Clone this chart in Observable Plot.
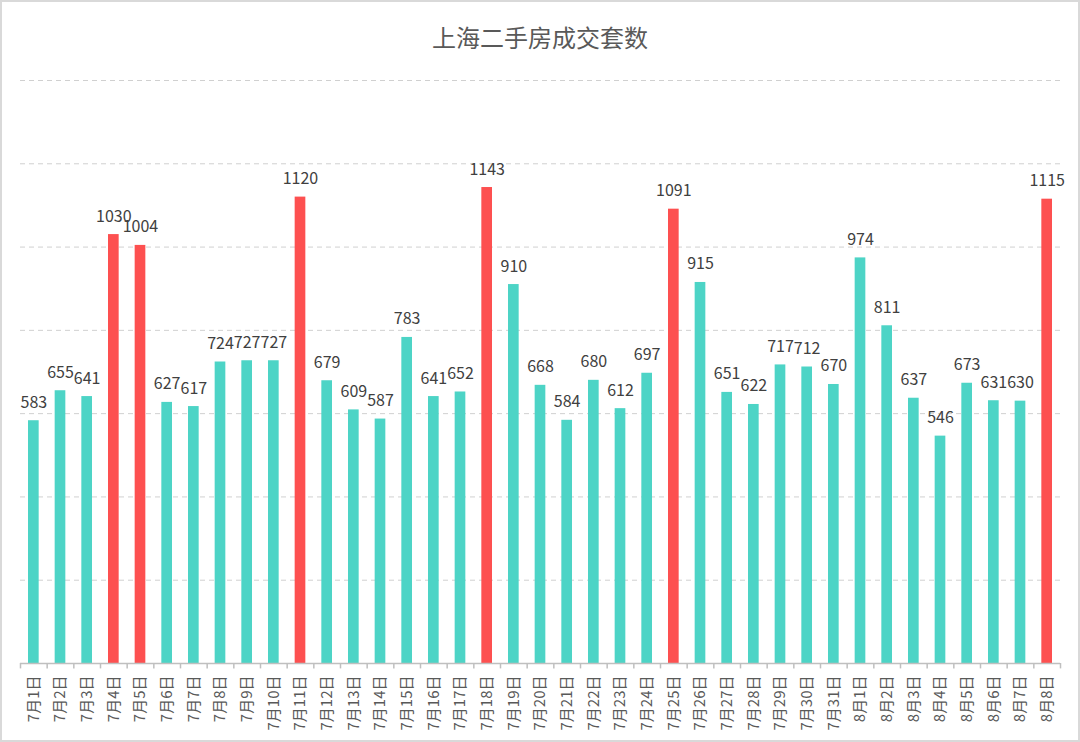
<!DOCTYPE html>
<html>
<head>
<meta charset="utf-8">
<script src="https://cdn.jsdelivr.net/npm/d3@7"></script>
<script src="https://cdn.jsdelivr.net/npm/@observablehq/plot@0.6"></script>
<style>
  html, body { margin: 0; padding: 0; background: #fff; }
  #wrap { position: relative; width: 1080px; height: 742px; overflow: hidden; font-family: "Noto Sans CJK SC", "Noto Sans", sans-serif; }
  #title { position: absolute; left: 0; top: 18px; width: 1080px; text-align: center; font-size: 24px; color: #595959; line-height: 38px; }
  #border { position: absolute; left: 0; top: 0; width: 1080px; height: 742px; box-sizing: border-box; border: 2px solid #d9d9d9; pointer-events: none; }
  #chart svg g[aria-label="x-axis tick label"] text { font-size: 15px; }
</style>
</head>
<body>
<div id="wrap">
  <div id="chart"></div>
  <div id="title">上海二手房成交套数</div>
  <div id="border"></div>
</div>
<script>
const dates = [
  "7月1日","7月2日","7月3日","7月4日","7月5日","7月6日","7月7日","7月8日","7月9日","7月10日",
  "7月11日","7月12日","7月13日","7月14日","7月15日","7月16日","7月17日","7月18日","7月19日","7月20日",
  "7月21日","7月22日","7月23日","7月24日","7月25日","7月26日","7月27日","7月28日","7月29日","7月30日",
  "7月31日","8月1日","8月2日","8月3日","8月4日","8月5日","8月6日","8月7日","8月8日"
];
const counts = [
  583, 655, 641, 1030, 1004, 627, 617, 724, 727, 727,
  1120, 679, 609, 587, 783, 641, 652, 1143, 910, 668,
  584, 680, 612, 697, 1091, 915, 651, 622, 717, 712,
  670, 974, 811, 637, 546, 673, 631, 630, 1115
];
const highlighted = ["7月4日","7月5日","7月11日","7月18日","7月25日","8月8日"];
const yTicks = [0, 200, 400, 600, 800, 1000, 1200, 1400];

const data = dates.map((d, i) => ({date: d, value: counts[i], hi: highlighted.includes(d)}));
const lastDate = dates[dates.length - 1];

const W = 1080, H = 742, mL = 20, mR = 20;
const step = (W - mL - mR) / dates.length;

const chart = Plot.plot({
  width: W,
  height: H,
  marginTop: 80,
  marginBottom: 79,
  marginLeft: mL,
  marginRight: mR,
  style: {fontFamily: '"Noto Sans CJK SC", "Noto Sans", sans-serif', background: "#fff", overflow: "visible"},
  x: {domain: dates, paddingInner: 0.6, paddingOuter: 0.3, round: false, label: null},
  y: {domain: [0, 1400], label: null},
  marks: [
    Plot.ruleY(yTicks.filter(v => v > 0), {stroke: "#d0d0d0", strokeWidth: 1, strokeDasharray: "5,4"}),
    Plot.barY(data, {x: "date", y: "value", fill: d => d.hi ? "#fd5050" : "#4dd4c6"}),
    Plot.text(data, {x: "date", y: "value", text: d => String(d.value), lineAnchor: "bottom", dy: -13, fontSize: 16, fill: "#404040"}),
    Plot.ruleY([0], {stroke: "#bfbfbf", strokeWidth: 1.5}),
    Plot.ruleX(dates, {x: d => d, y1: 0, y2: -13, dx: -step / 2, stroke: "#bfbfbf", strokeWidth: 1.5, clip: false}),
    Plot.ruleX([lastDate], {x: d => d, y1: 0, y2: -13, dx: step / 2, stroke: "#bfbfbf", strokeWidth: 1.5, clip: false}),
    Plot.axisX({tickSize: 0, tickRotate: -90, tickPadding: 12, fontSize: 15, color: "#595959", label: null}),
    Plot.axisY({ticks: [], label: null, tickSize: 0})
  ]
});
document.getElementById("chart").appendChild(chart);
</script>
</body>
</html>
